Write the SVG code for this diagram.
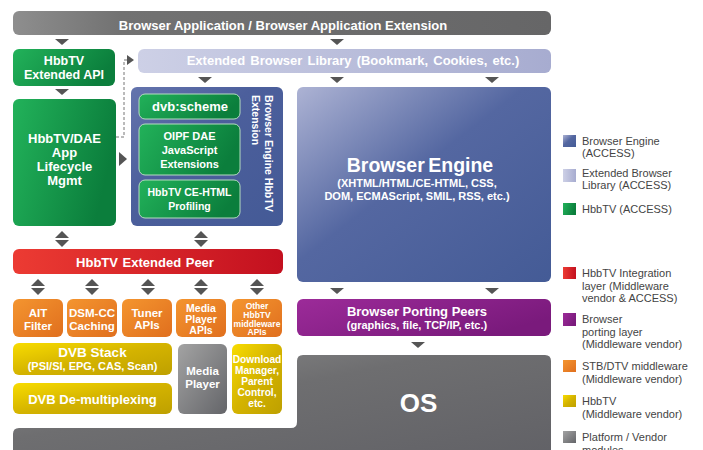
<svg xmlns="http://www.w3.org/2000/svg" width="703" height="450" viewBox="0 0 703 450">
<defs>
<linearGradient id="gTop" x1="0" y1="0" x2="1" y2="0"><stop offset="0" stop-color="#8e8e8e"/><stop offset="0.2" stop-color="#727272"/><stop offset="1" stop-color="#666667"/></linearGradient>
<linearGradient id="gGreen" x1="0" y1="0" x2="1" y2="0.3"><stop offset="0" stop-color="#22b25a"/><stop offset="1" stop-color="#0b7e3c"/></linearGradient>
<linearGradient id="gLav" x1="0" y1="0" x2="1" y2="0"><stop offset="0" stop-color="#cdd0e6"/><stop offset="1" stop-color="#a7acd0"/></linearGradient>
<linearGradient id="gBlue" x1="0" y1="0" x2="1" y2="1"><stop offset="0" stop-color="#6474ad"/><stop offset="0.4" stop-color="#4c5f9c"/><stop offset="1" stop-color="#445a96"/></linearGradient>
<linearGradient id="gEngine" x1="0" y1="0" x2="1" y2="1"><stop offset="0" stop-color="#adb3d4"/><stop offset="0.45" stop-color="#5467a1"/><stop offset="1" stop-color="#445b96"/></linearGradient>
<linearGradient id="gRed" x1="0" y1="0" x2="1" y2="0"><stop offset="0" stop-color="#ec3b33"/><stop offset="1" stop-color="#c3101f"/></linearGradient>
<linearGradient id="gOrange" x1="0" y1="0" x2="1" y2="1"><stop offset="0" stop-color="#f4952f"/><stop offset="1" stop-color="#e06f1e"/></linearGradient>
<linearGradient id="gYellow" x1="0" y1="0" x2="1" y2="1"><stop offset="0" stop-color="#f8dc00"/><stop offset="0.5" stop-color="#d4b300"/><stop offset="1" stop-color="#bea000"/></linearGradient>
<linearGradient id="gGray" x1="0" y1="0" x2="1" y2="1"><stop offset="0" stop-color="#a3a3a3"/><stop offset="1" stop-color="#646569"/></linearGradient>
<linearGradient id="gPurple" x1="0" y1="0" x2="1" y2="0.5"><stop offset="0" stop-color="#9c2b99"/><stop offset="1" stop-color="#7a1a7c"/></linearGradient>
<linearGradient id="gOS" x1="0" y1="0" x2="1" y2="1"><stop offset="0" stop-color="#8c8c8c"/><stop offset="0.4" stop-color="#6e6e70"/><stop offset="1" stop-color="#616166"/></linearGradient>
</defs>
<style>
.t{font-family:"Liberation Sans",Arial,Helvetica,sans-serif;font-weight:bold;fill:#fff;text-anchor:middle}
.v{font-family:"Liberation Sans",Arial,Helvetica,sans-serif;font-weight:bold;fill:#fff;font-size:10.5px}
.lg{font-family:"Liberation Sans",Arial,Helvetica,sans-serif;font-size:11px;fill:#444}
.arr{fill:#555}
.dash{fill:none;stroke:#777;stroke-width:1;stroke-dasharray:3 2}
.inner{fill:url(#gGreen);stroke:#b5dcc0;stroke-width:1}
</style>
<rect width="703" height="450" fill="#fff"/>

<g id="platform-os">
<path d="M19 428 L291 428 Q297 428 297 422 L297 361 Q297 355 303 355 L545 355 Q551 355 551 361 L551 460 L13 460 L13 434 Q13 428 19 428 Z" fill="url(#gOS)"/>
<text class="t" x="418.5" y="411.5" font-size="26">OS</text>
</g>

<g id="browser-application">
<rect x="13" y="11" width="538" height="24" rx="6" fill="url(#gTop)"/>
<text class="t" x="283" y="29.5" font-size="13">Browser Application / Browser Application Extension</text>
</g>

<g id="hbbtv-extended-api">
<rect x="13" y="49" width="102" height="37" rx="6" fill="url(#gGreen)"/>
<text class="t" x="64" y="65" font-size="12.5">HbbTV</text>
<text class="t" x="64" y="79" font-size="12.5">Extended API</text>
</g>

<g id="app-lifecycle">
<rect x="13" y="99" width="103" height="127" rx="6" fill="url(#gGreen)"/>
<text class="t" x="64.5" y="143" font-size="13">HbbTV/DAE</text>
<text class="t" x="64.5" y="157" font-size="13">App</text>
<text class="t" x="64.5" y="171" font-size="13">Lifecycle</text>
<text class="t" x="64.5" y="185" font-size="13">Mgmt</text>
</g>

<g id="extended-browser-library">
<rect x="138" y="49" width="413" height="24" rx="6" fill="url(#gLav)"/>
<text class="t" x="353" y="65" font-size="13" word-spacing="1.5">Extended Browser Library (Bookmark, Cookies, etc.)</text>
</g>

<g id="browser-engine-hbbtv-extension">
<rect x="131" y="87" width="152" height="139" rx="6" fill="url(#gBlue)"/>
<text class="v" transform="translate(264.5,95) rotate(90)">Browser Engine HbbTV</text>
<text class="v" transform="translate(252,95) rotate(90)">Extension</text>
</g>

<g id="dvb-scheme">
<rect class="inner" x="139" y="94" width="101" height="25" rx="6"/>
<text class="t" x="190" y="111" font-size="13">dvb:scheme</text>
</g>

<g id="oipf-dae">
<rect class="inner" x="139" y="124" width="101" height="51" rx="6"/>
<text class="t" x="189.5" y="140" font-size="11">OIPF DAE</text>
<text class="t" x="189.5" y="154" font-size="11">JavaScript</text>
<text class="t" x="189.5" y="167.5" font-size="11">Extensions</text>
</g>

<g id="ce-html-profiling">
<rect class="inner" x="139" y="180" width="101" height="38" rx="6"/>
<text class="t" x="189.5" y="196" font-size="10.5">HbbTV CE-HTML</text>
<text class="t" x="189.5" y="209.5" font-size="10.5">Profiling</text>
</g>

<g id="browser-engine">
<rect x="297" y="87" width="254" height="195" rx="6" fill="url(#gEngine)"/>
<text class="t" x="420" y="172" font-size="19.5" word-spacing="-2">Browser Engine</text>
<text class="t" x="417" y="187" font-size="11">(XHTML/HTML/CE-HTML, CSS,</text>
<text class="t" x="417" y="199.5" font-size="11">DOM, ECMAScript, SMIL, RSS, etc.)</text>
</g>

<g id="hbbtv-extended-peer">
<rect x="13" y="249" width="270" height="25" rx="6" fill="url(#gRed)"/>
<text class="t" x="145" y="266.5" font-size="13" word-spacing="1">HbbTV Extended Peer</text>
</g>

<g id="ait-filter">
<rect x="13" y="299" width="50" height="38" rx="6" fill="url(#gOrange)"/>
<text class="t" x="38" y="316.5" font-size="11.5">AIT</text>
<text class="t" x="38" y="329.5" font-size="11.5">Filter</text>
</g>

<g id="dsm-cc-caching">
<rect x="67" y="299" width="50" height="38" rx="6" fill="url(#gOrange)"/>
<text class="t" x="92" y="316.5" font-size="11.5">DSM-CC</text>
<text class="t" x="92" y="330" font-size="11.5">Caching</text>
</g>

<g id="tuner-apis">
<rect x="122" y="299" width="50" height="38" rx="6" fill="url(#gOrange)"/>
<text class="t" x="147" y="317" font-size="11.5">Tuner</text>
<text class="t" x="147" y="328.5" font-size="11.5">APIs</text>
</g>

<g id="media-player-apis">
<rect x="176" y="299" width="50" height="38" rx="6" fill="url(#gOrange)"/>
<text class="t" x="201" y="311.7" font-size="10.5">Media</text>
<text class="t" x="201" y="323" font-size="10.5">Player</text>
<text class="t" x="201" y="334" font-size="10.5">APIs</text>
</g>

<g id="other-middleware-apis">
<rect x="232" y="299" width="50" height="38" rx="6" fill="url(#gOrange)"/>
<text class="t" x="257" y="308.5" font-size="8.5">Other</text>
<text class="t" x="257" y="317.5" font-size="8.5">HbbTV</text>
<text class="t" x="257" y="326.5" font-size="8.5">middleware</text>
<text class="t" x="257" y="335.3" font-size="8.5">APIs</text>
</g>

<g id="dvb-stack">
<rect x="13" y="343" width="159" height="32" rx="6" fill="url(#gYellow)"/>
<text class="t" x="92.5" y="357" font-size="13.5">DVB Stack</text>
<text class="t" x="92.5" y="369.5" font-size="11">(PSI/SI, EPG, CAS, Scan)</text>
</g>

<g id="dvb-demultiplexing">
<rect x="13" y="383" width="159" height="31" rx="6" fill="url(#gYellow)"/>
<text class="t" x="92.5" y="403.5" font-size="13">DVB De-multiplexing</text>
</g>

<g id="media-player">
<rect x="178" y="344" width="49" height="70" rx="6" fill="url(#gGray)"/>
<text class="t" x="202.5" y="375" font-size="11.5">Media</text>
<text class="t" x="202.5" y="388" font-size="11.5">Player</text>
</g>

<g id="download-manager">
<rect x="232" y="344" width="50" height="70" rx="6" fill="url(#gYellow)"/>
<text class="t" x="257" y="362.5" font-size="10.2">Download</text>
<text class="t" x="257" y="374" font-size="10.2">Manager,</text>
<text class="t" x="257" y="384.8" font-size="10.2">Parent</text>
<text class="t" x="257" y="395.6" font-size="10.2">Control,</text>
<text class="t" x="257" y="406.5" font-size="10.2">etc.</text>
</g>

<g id="browser-porting-peers">
<rect x="297" y="299" width="254" height="37" rx="6" fill="url(#gPurple)"/>
<text class="t" x="417" y="316" font-size="13">Browser Porting Peers</text>
<text class="t" x="417" y="328.5" font-size="11">(graphics, file, TCP/IP, etc.)</text>
</g>

<g id="connectors">
<polygon class="arr" points="55,39 69,39 62,45"/>
<polygon class="arr" points="330,39 344,39 337,45"/>
<polygon class="arr" points="55,89 69,89 62,95"/>
<polygon class="arr" points="198,77 212,77 205,83"/>
<polygon class="arr" points="330,77 344,77 337,83"/>
<polygon class="arr" points="485,77 499,77 492,83"/>
<polygon class="arr" points="119,152 119,166 127,159"/>
<polyline class="dash" points="116,137 124,137 124,60 127,60"/>
<polygon class="arr" points="127,55 127,65 134,60"/>
<polygon class="arr" points="55,238 69,238 62,231"/>
<polygon class="arr" points="55,240 69,240 62,247"/>
<polygon class="arr" points="194,238 208,238 201,231"/>
<polygon class="arr" points="194,240 208,240 201,247"/>
<polygon class="arr" points="31,286 45,286 38,279"/>
<polygon class="arr" points="31,288 45,288 38,295"/>
<polygon class="arr" points="85,286 99,286 92,279"/>
<polygon class="arr" points="85,288 99,288 92,295"/>
<polygon class="arr" points="141,286 155,286 148,279"/>
<polygon class="arr" points="141,288 155,288 148,295"/>
<polygon class="arr" points="194,286 208,286 201,279"/>
<polygon class="arr" points="194,288 208,288 201,295"/>
<polygon class="arr" points="250,286 264,286 257,279"/>
<polygon class="arr" points="250,288 264,288 257,295"/>
<polygon class="arr" points="330,288 344,288 337,294"/>
<polygon class="arr" points="485,288 499,288 492,294"/>
<polygon class="arr" points="411,342 425,342 418,348"/>
</g>

<g id="legend">
<rect x="563" y="135" width="13" height="12" fill="url(#gEngine)"/>
<text class="lg" x="582" y="145">Browser Engine</text>
<text class="lg" x="582" y="157.3">(ACCESS)</text>
<rect x="563" y="169" width="13" height="13" fill="url(#gLav)"/>
<text class="lg" x="582" y="177">Extended Browser</text>
<text class="lg" x="582" y="189.3">Library (ACCESS)</text>
<rect x="563" y="203" width="13" height="12" fill="url(#gGreen)"/>
<text class="lg" x="582" y="212.5">HbbTV (ACCESS)</text>
<rect x="563" y="267" width="13" height="12" fill="url(#gRed)"/>
<text class="lg" x="582" y="277">HbbTV Integration</text>
<text class="lg" x="582" y="289.5">layer (Middleware</text>
<text class="lg" x="582" y="302">vendor &amp; ACCESS)</text>
<rect x="563" y="313" width="13" height="13" fill="url(#gPurple)"/>
<text class="lg" x="582" y="323">Browser</text>
<text class="lg" x="582" y="335.5">porting layer</text>
<text class="lg" x="582" y="348">(Middleware vendor)</text>
<rect x="563" y="360" width="13" height="12" fill="url(#gOrange)"/>
<text class="lg" x="582" y="370">STB/DTV middleware</text>
<text class="lg" x="582" y="382.5">(Middleware vendor)</text>
<rect x="563" y="395" width="13" height="12" fill="url(#gYellow)"/>
<text class="lg" x="582" y="405">HbbTV</text>
<text class="lg" x="582" y="417.5">(Middleware vendor)</text>
<rect x="563" y="431" width="13" height="12" fill="url(#gGray)"/>
<text class="lg" x="582" y="441">Platform / Vendor</text>
<text class="lg" x="582" y="453.5">modules</text>
</g>
</svg>
